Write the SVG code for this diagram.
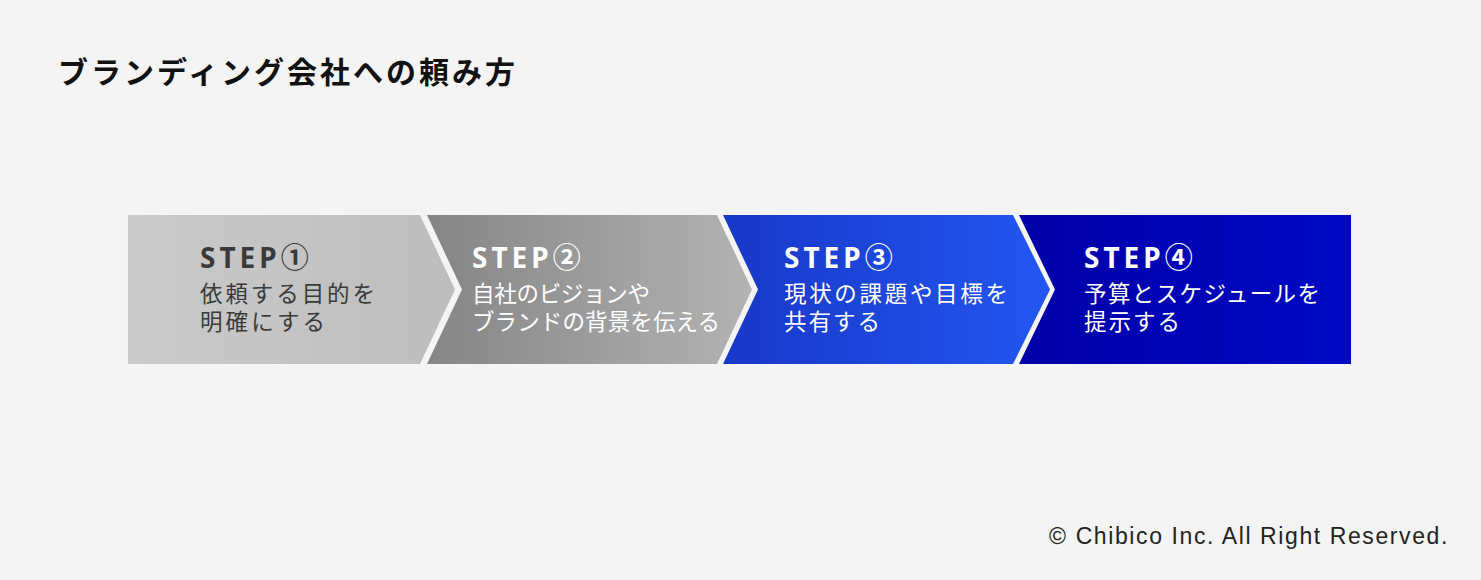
<svg xmlns="http://www.w3.org/2000/svg" width="1481" height="580" viewBox="0 0 1481 580">
<style>
.title{font-family:"Noto Sans CJK JP","Noto Sans",sans-serif;font-weight:700;font-size:30px;letter-spacing:3px;fill:#111}
.step{font-family:"Noto Sans","Noto Sans CJK JP",sans-serif;font-weight:700;font-size:28px;letter-spacing:4px}
.desc{font-family:"Noto Sans CJK JP",sans-serif;font-size:22.5px}
.dark{fill:#3a3a3a}
.light{fill:#ffffff}
.copy{font-family:"Liberation Sans","Noto Sans",sans-serif;font-size:23px;letter-spacing:1.6px;fill:#222}
</style>
<defs>
<linearGradient id="g1" x1="0" y1="0" x2="1" y2="0"><stop offset="0" stop-color="#cacaca"/><stop offset="1" stop-color="#bdbdbd"/></linearGradient>
<linearGradient id="g2" x1="0" y1="0" x2="1" y2="0"><stop offset="0" stop-color="#858585"/><stop offset="1" stop-color="#b3b3b3"/></linearGradient>
<linearGradient id="g3" x1="0" y1="0" x2="1" y2="0"><stop offset="0" stop-color="#1838c8"/><stop offset="1" stop-color="#2356f2"/></linearGradient>
<linearGradient id="g4" x1="0" y1="0" x2="1" y2="0"><stop offset="0" stop-color="#0000a8"/><stop offset="1" stop-color="#0008c4"/></linearGradient>
</defs>
<rect width="1481" height="580" fill="#f4f4f4"/>
<text class="title" x="58" y="83">ブランディング会社への頼み方</text>
<g id="step1">
<polygon points="128,215 420,215 455,289.5 420,364 128,364" fill="url(#g1)"/>
<text class="step dark" x="200" y="268">STEP①</text>
<text class="desc dark" x="200" y="302" textLength="175" lengthAdjust="spacing">依頼する目的を</text>
<text class="desc dark" x="200" y="330" textLength="125" lengthAdjust="spacing">明確にする</text>
</g>
<g id="step2">
<polygon points="427,215 717,215 752,289.5 717,364 427,364 462,289.5" fill="url(#g2)"/>
<text class="step light" x="472" y="268">STEP②</text>
<text class="desc light" x="472" y="302" textLength="178" lengthAdjust="spacing">自社のビジョンや</text>
<text class="desc light" x="472" y="330" textLength="248" lengthAdjust="spacing">ブランドの背景を伝える</text>
</g>
<g id="step3">
<polygon points="723,215 1013,215 1050,289.5 1013,364 723,364 758,289.5" fill="url(#g3)"/>
<text class="step light" x="784" y="268">STEP③</text>
<text class="desc light" x="784" y="302" textLength="224" lengthAdjust="spacing">現状の課題や目標を</text>
<text class="desc light" x="784" y="330" textLength="96" lengthAdjust="spacing">共有する</text>
</g>
<g id="step4">
<polygon points="1019,215 1351,215 1351,364 1019,364 1055,289.5" fill="url(#g4)"/>
<text class="step light" x="1084" y="268">STEP④</text>
<text class="desc light" x="1084" y="302" textLength="236" lengthAdjust="spacing">予算とスケジュールを</text>
<text class="desc light" x="1084" y="330" textLength="96" lengthAdjust="spacing">提示する</text>
</g>
<g id="connectors"></g>
<text class="copy" x="1449" y="544" text-anchor="end">© Chibico Inc. All Right Reserved.</text>
</svg>
